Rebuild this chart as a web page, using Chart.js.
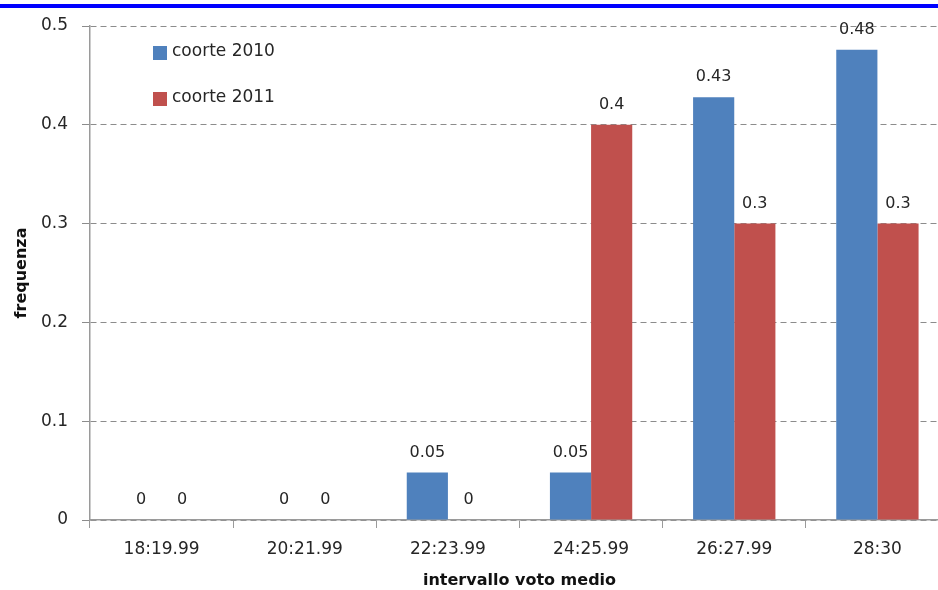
<!DOCTYPE html>
<html>
<head>
<meta charset="utf-8">
<script src="https://cdn.jsdelivr.net/npm/chart.js@4.4.1/dist/chart.umd.min.js"></script>
<style>
  html, body { margin: 0; padding: 0; background: #fff; overflow: hidden; }
  #wrap { position: relative; width: 938px; height: 590px; overflow: hidden; }
  #topline { position: absolute; left: 0; top: 4px; width: 938px; height: 3.5px; background: #0000ff; }
</style>
</head>
<body>
<div id="wrap">
  <canvas id="chart-area"></canvas>
  <div id="topline"></div>
</div>
<script>
var categories = ["18:19.99", "20:21.99", "22:23.99", "24:25.99", "26:27.99", "28:30"];
var coorte2010 = [0, 0, 0.048, 0.048, 0.428, 0.476];
var coorte2011 = [0, 0, 0, 0.4, 0.3, 0.3];
var yTicks = [0, 0.1, 0.2, 0.3, 0.4, 0.5];

var FONT = "'DejaVu Sans', sans-serif";
var TXT = '#262626';

function fmt(v) {
    return String(Number(v.toFixed(2)));
}

// value labels above bars
var valueLabels = {
    id: 'valueLabels',
    afterDatasetsDraw: function (chart) {
        var ctx = chart.ctx;
        ctx.save();
        ctx.font = '16px ' + FONT;
        ctx.fillStyle = TXT;
        ctx.textAlign = 'center';
        ctx.textBaseline = 'middle';
        chart.data.datasets.forEach(function (ds, i) {
            chart.getDatasetMeta(i).data.forEach(function (bar, j) {
                ctx.fillText(fmt(ds.data[j]), bar.x, bar.y - 20);
            });
        });
        ctx.restore();
    }
};

// legend floating inside the plot area
var innerLegend = {
    id: 'innerLegend',
    afterDraw: function (chart) {
        var ctx = chart.ctx;
        ctx.save();
        ctx.font = '17px ' + FONT;
        ctx.textBaseline = 'middle';
        chart.data.datasets.forEach(function (ds, i) {
            var y = 52 + i * 46;
            ctx.fillStyle = ds.backgroundColor;
            ctx.fillRect(153, y - 6, 14, 14);
            ctx.fillStyle = TXT;
            ctx.fillText(ds.label, 172, y);
        });
        ctx.restore();
    }
};

var config = {
    type: 'bar',
    data: {
        labels: categories,
        datasets: [{
            label: 'coorte 2010',
            data: coorte2010,
            backgroundColor: '#4F81BD'
        }, {
            label: 'coorte 2011',
            data: coorte2011,
            backgroundColor: '#C0504D'
        }]
    },
    options: {
        responsive: false,
        animation: false,
        devicePixelRatio: 1,
        layout: { padding: { top: 26, right: 3, left: 0, bottom: 0 } },
        plugins: {
            legend: { display: false },
            tooltip: { enabled: false }
        },
        datasets: {
            bar: { categoryPercentage: 0.575, barPercentage: 1 }
        },
        scales: {
            x: {
                grid: {
                    offset: true,
                    drawOnChartArea: false,
                    color: '#9a9a9a',
                    tickLength: 8
                },
                border: { color: '#9a9a9a', width: 1.5 },
                ticks: { font: { family: FONT, size: 17 }, color: TXT, padding: 11 },
                title: {
                    display: true,
                    text: 'intervallo voto medio',
                    font: { family: FONT, size: 16, weight: 'bold' },
                    color: '#111',
                    padding: { top: 4, bottom: 0 }
                },
                afterFit: function (scale) { scale.height = 70; }
            },
            y: {
                min: 0,
                max: 0.5,
                afterBuildTicks: function (scale) {
                    scale.ticks = yTicks.map(function (v) { return { value: v }; });
                },
                grid: {
                    color: '#8c8c8c',
                    tickLength: 8,
                    tickColor: '#8c8c8c',
                    tickBorderDash: [0, 0]
                },
                border: { color: '#9a9a9a', width: 1.5, dash: [6, 4] },
                ticks: {
                    font: { family: FONT, size: 17 },
                    color: TXT,
                    padding: 14,
                    callback: function (v) { return fmt(v); }
                },
                title: {
                    display: true,
                    text: 'frequenza',
                    font: { family: FONT, size: 16, weight: 'bold' },
                    color: '#111',
                    padding: { top: 12, bottom: 0 }
                },
                afterFit: function (scale) { scale.width = 90; }
            }
        }
    },
    plugins: [valueLabels, innerLegend]
};

var canvas = document.getElementById('chart-area');
canvas.width = 952;
canvas.height = 590;
var myChart = new Chart(canvas.getContext('2d'), config);
</script>
</body>
</html>
